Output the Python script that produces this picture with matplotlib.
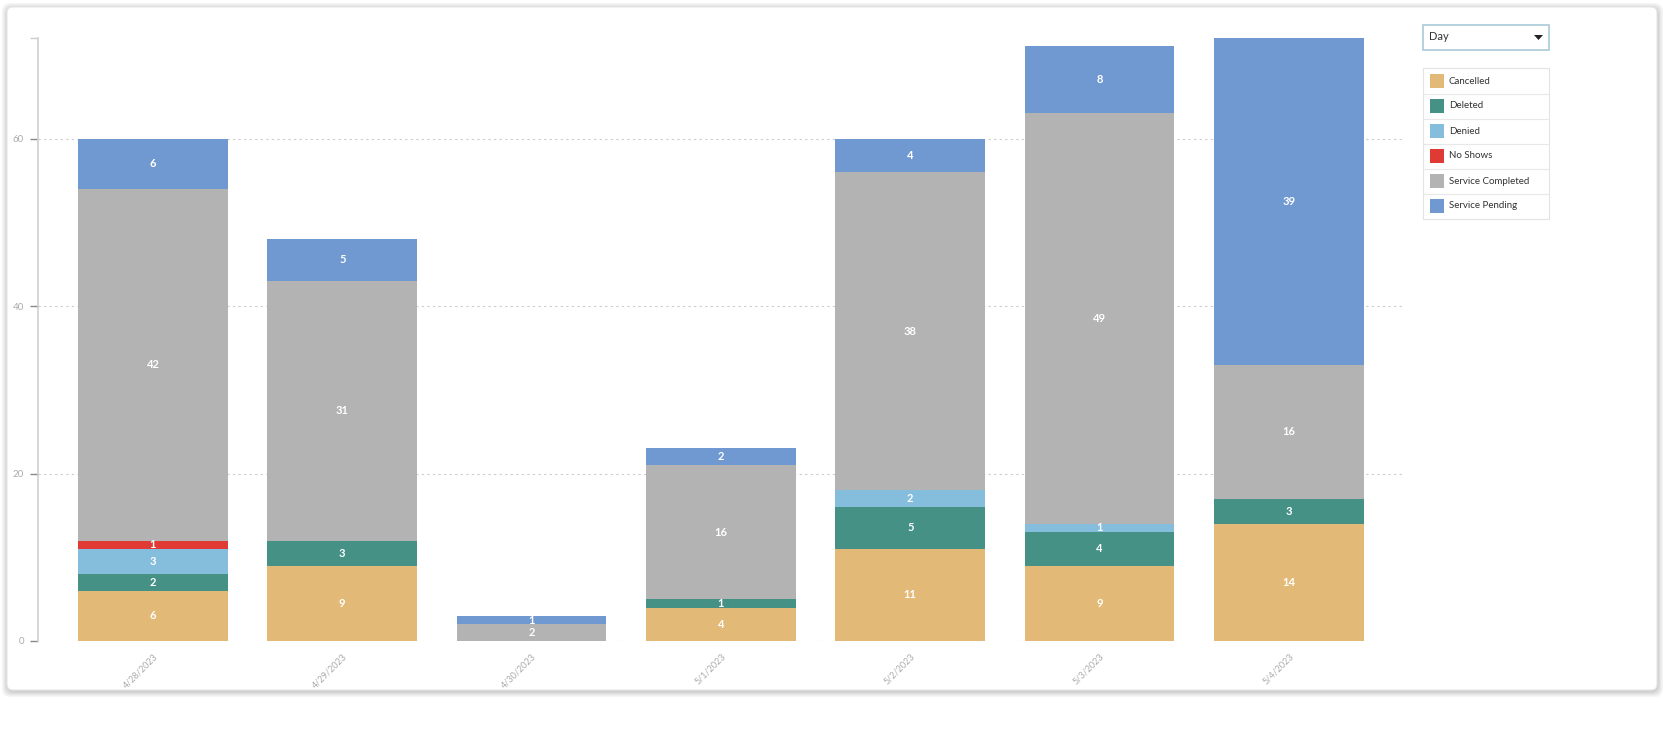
"""
Stacked daily appointment status chart.
"""

import matplotlib
matplotlib.use("Agg")
import matplotlib.pyplot as plt
from matplotlib.patches import FancyBboxPatch, Rectangle, Polygon
import numpy as np

plt.rcParams["font.family"] = ["Lato", "DejaVu Sans"]

days = ["4/28/2023", "4/29/2023", "4/30/2023", "5/1/2023", "5/2/2023", "5/3/2023", "5/4/2023"]
cancelled = [6, 9, 0, 4, 11, 9, 14]
deleted = [2, 3, 0, 1, 5, 4, 3]
denied = [3, 0, 0, 0, 2, 1, 0]
no_shows = [1, 0, 0, 0, 0, 0, 0]
completed = [42, 31, 2, 16, 38, 49, 16]
pending = [6, 5, 1, 2, 4, 8, 39]

series_names = ["Cancelled", "Deleted", "Denied", "No Shows", "Service Completed", "Service Pending"]
series = [cancelled, deleted, denied, no_shows, completed, pending]
colors = ["#E2B977", "#459186", "#85BEDD", "#E03A34", "#B3B3B3", "#7199D1"]

W, H = 1665, 740
fig = plt.figure(figsize=(W / 100, H / 100), dpi=100)
fig.patch.set_facecolor("white")


def px(x0, y0, x1, y1):
    # pixel box (top-left origin) -> figure fraction rect
    return [x0 / W, 1 - y1 / H, (x1 - x0) / W, (y1 - y0) / H]


# card with soft shadow
bg = fig.add_axes([0, 0, 1, 1])
bg.set_xlim(0, W)
bg.set_ylim(H, 0)
bg.axis("off")
for i, a in enumerate([0.04, 0.05, 0.05, 0.06]):
    d = 6 - i * 1.5
    bg.add_patch(FancyBboxPatch((7 - d + 1, 7 - d + 2), 1650 + 2 * d - 1, 683 + 2 * d - 1,
                                boxstyle="round,pad=0,rounding_size=8",
                                fc=(0, 0, 0, a), ec="none"))
bg.add_patch(FancyBboxPatch((7, 7), 1650, 683, boxstyle="round,pad=0,rounding_size=6",
                            fc="white", ec="#e6e6e6", lw=0.8))

# main chart
ax = fig.add_axes(px(38, 38, 1402, 641))
x = np.arange(len(days))
bottom = np.zeros(len(days))
for name, vals, col in zip(series_names, series, colors):
    vals = np.array(vals, dtype=float)
    ax.bar(x, vals, bottom=bottom, width=0.79, color=col, edgecolor="none", zorder=3)
    for xi, b, v in zip(x, bottom, vals):
        if v > 0:
            ax.text(xi, b + v / 2, f"{int(v)}", ha="center", va="center",
                    color="white", fontsize=8, fontweight="bold", zorder=4)
    bottom += vals

ax.set_xlim(-0.607, 6.597)
ax.set_ylim(0, 72)
ax.set_xticks(x)
ax.set_xticklabels(days, rotation=45, ha="right", rotation_mode="anchor",
                   fontsize=6.5, color="#aaaaaa")
ax.tick_params(axis="x", length=0, pad=8)
ax.set_yticks([0, 20, 40, 60])
ax.set_yticklabels(["0", "20", "40", "60"], fontsize=7, color="#aaaaaa")
ax.set_yticks([72], minor=True)
ax.tick_params(axis="y", which="major", length=6, width=1, color="#888888", pad=4)
ax.tick_params(axis="y", which="minor", length=6, width=1, color="#cccccc")
for y in [0, 20, 40, 60]:
    ax.axhline(y, color="#cccccc", lw=0.8, ls=(0, (2, 3)), zorder=1)
for s in ["top", "right", "bottom"]:
    ax.spines[s].set_visible(False)
ax.spines["left"].set_color("#d0d0d0")
ax.spines["left"].set_linewidth(1.2)
ax.set_facecolor("none")

# dropdown
dd = fig.add_axes(px(1423, 24, 1550, 50))
dd.set_xlim(0, 127)
dd.set_ylim(26, 0)
dd.axis("off")
dd.add_patch(Rectangle((0.5, 0.5), 126, 25, fc="white", ec="#a9cbd8", lw=1.2, clip_on=False))
dd.text(6, 13, "Day", fontsize=8, color="#333333", va="center", ha="left")
dd.add_patch(Polygon([[111, 11], [120, 11], [115.5, 16]], closed=True, fc="#222222", ec="none"))

# legend
lg = fig.add_axes(px(1423, 67, 1550, 219))
lg.set_xlim(0, 127)
lg.set_ylim(152, 0)
lg.axis("off")
lg.add_patch(Rectangle((0.5, 0.5), 126, 151, fc="white", ec="#e3e3e3", lw=0.8, clip_on=False))
for i, (name, col) in enumerate(zip(series_names, colors)):
    yc = 14 + i * 25
    if i > 0:
        lg.plot([0.5, 126.5], [yc - 12.5, yc - 12.5], color="#e8e8e8", lw=0.8)
    lg.add_patch(Rectangle((7, yc - 7), 14, 14, fc=col, ec="none"))
    lg.text(26, yc, name, fontsize=7, color="#333333", va="center", ha="left")

fig.savefig("out.png", dpi=100, facecolor="white")
